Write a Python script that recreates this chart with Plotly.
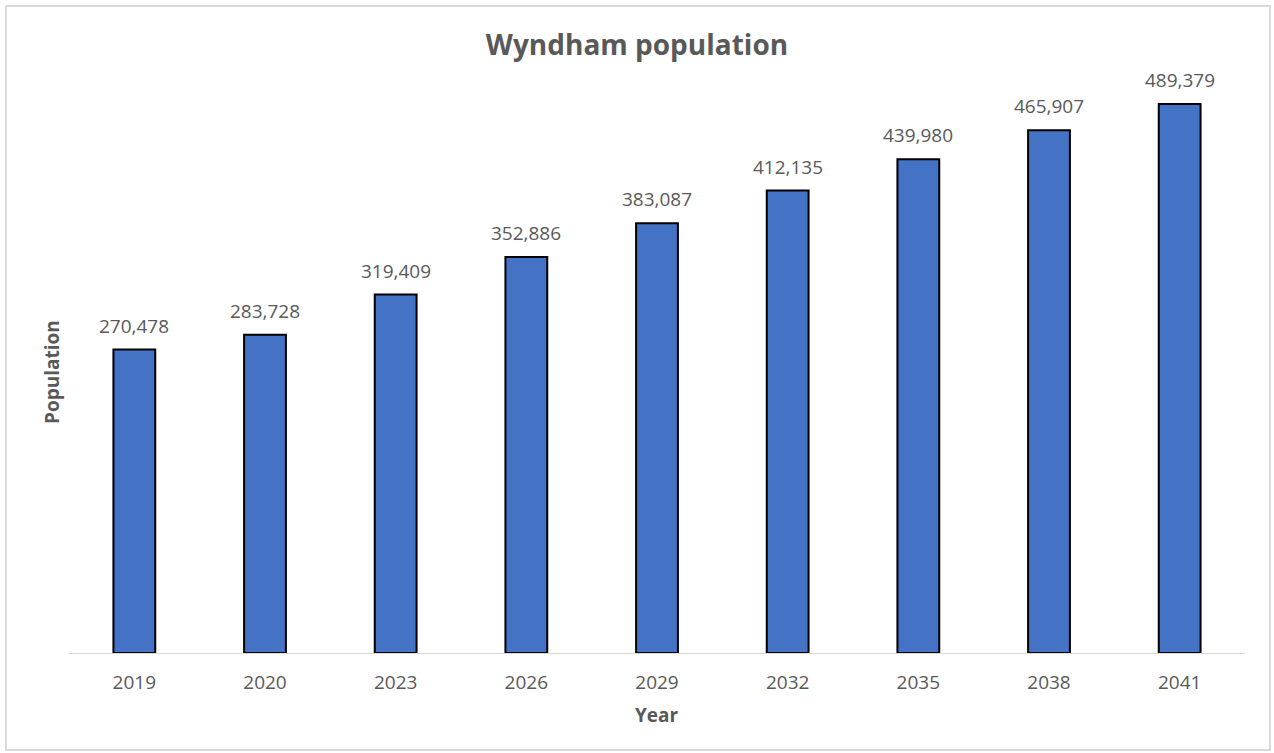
import plotly.graph_objects as go

years = ["2019", "2020", "2023", "2026", "2029", "2032", "2035", "2038", "2041"]
population = [270478, 283728, 319409, 352886, 383087, 412135, 439980, 465907, 489379]
labels = [f"{v:,}" for v in population]

FONT = "Open Sans"
GRAY = "#595959"

fig = go.Figure(go.Bar(
    x=years, y=population, width=0.32,
    marker=dict(color="#4472C4", line=dict(color="#000000", width=2)),
))

W, H = 1274, 753
L, R, T, B = 69, 29, 92, 100
pw, ph = W - L - R, H - T - B

def px(x):
    return (x - L) / pw

def py(y):
    return (H - B - y) / ph

label_annots = [
    dict(x=i, y=val, xref="x", yref="y", text=lab, showarrow=False,
         xanchor="center", yanchor="middle", yshift=24,
         font=dict(family=FONT, size=19, color=GRAY))
    for i, (val, lab) in enumerate(zip(population, labels))
]

fig.update_layout(
    width=W, height=H,
    margin=dict(l=L, r=R, t=T, b=B),
    paper_bgcolor="white", plot_bgcolor="white",
    showlegend=False,
    title=dict(text="<b>Wyndham population</b>", x=0.5, xanchor="center",
               y=1 - 45 / H, yanchor="middle",
               font=dict(family=FONT, size=28, color=GRAY)),
    xaxis=dict(type="category", categoryorder="array", categoryarray=years,
               range=[-0.5, len(years) - 0.5],
               showline=True, linecolor="#d9d9d9", linewidth=1,
               ticks="", showgrid=False, ticklabelstandoff=12,
               tickfont=dict(family=FONT, size=19, color=GRAY)),
    yaxis=dict(range=[0, 500000], visible=False, showgrid=False, zeroline=False),
    font=dict(family=FONT, color=GRAY),
    shapes=[dict(type="rect", xref="paper", yref="paper",
                 x0=px(6), x1=px(1270), y0=py(750), y1=py(6),
                 line=dict(color="#d9d9d9", width=2), layer="below")],
    annotations=label_annots + [
        dict(text="<b>Year</b>", xref="paper", yref="paper", x=px(657), y=py(715),
             showarrow=False, xanchor="center", yanchor="middle",
             font=dict(family=FONT, size=19, color=GRAY)),
        dict(text="<b>Population</b>", xref="paper", yref="paper", x=px(52), y=py(372),
             showarrow=False, xanchor="center", yanchor="middle", textangle=-90,
             font=dict(family=FONT, size=19, color=GRAY)),
    ],
)

fig.write_html("out.html", config={"displayModeBar": False},
               post_script="document.body.style.margin='0';document.body.style.overflow='hidden';")
